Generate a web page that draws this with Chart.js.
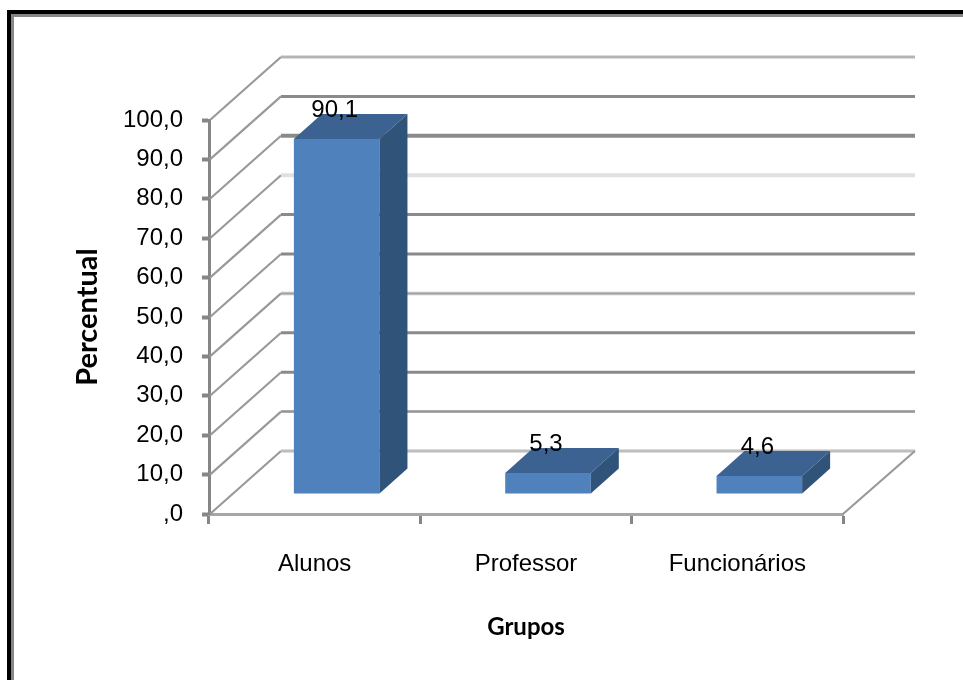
<!DOCTYPE html>
<html><head><meta charset="utf-8">
<style>html,body{margin:0;padding:0;background:#fff}canvas{display:block}</style>
<script src="https://cdn.jsdelivr.net/npm/chart.js@4"></script>
</head><body>
<canvas id="c" width="963" height="680"></canvas>
<script>
const categories = ['Alunos', 'Professor', 'Funcionários'];
const percentual = [90.1, 5.3, 4.6];
const valueLabels = ['90,1', '5,3', '4,6'];
const yMin = 0, yMax = 100, yStep = 10;
const xTitle = 'Grupos';
const yTitle = 'Percentual';

const wall = {dx: 72, dy: 63};
const barShift = {dx: 22, dy: 20};
const depth = {dx: 28, dy: 25};
const gridStyle = {
  100:['#dcdcdc',4,'#8c8c8c',1], 90:['#8a8a8a',3], 80:['#8a8a8a',4], 70:['#e0e0e0',4],
  60:['#8a8a8a',3], 50:['#8a8a8a',3], 40:['#dedede',4,'#a0a0a0',2], 30:['#8a8a8a',3], 20:['#8a8a8a',3],
  10:['#c0c0c0',3,'#959595',2], 0:['#dcdcdc',4,'#a0a0a0',1]
};
const fmt = v => v === 0 ? ',0' : v.toFixed(1).replace('.', ',');
const family = '"Liberation Sans", sans-serif';
const labelFont = '24px ' + family;

const scene3d = {
  id: 'scene3d',
  beforeDraw(chart) {
    const {ctx, width, height} = chart;
    ctx.save();
    ctx.fillStyle = '#000';
    ctx.fillRect(7, 10, width - 7, 4);
    ctx.fillRect(7, 10, 4, height - 10);
    ctx.fillStyle = '#868686';
    ctx.fillRect(11, 14, width - 11, 3);
    ctx.fillRect(11, 14, 3, height - 14);
    ctx.restore();
  },
  beforeDatasetsDraw(chart) {
    const {ctx, chartArea: a, scales: {y}} = chart;
    ctx.save();
    y.ticks.forEach(t => {
      const py = y.getPixelForValue(t.value);
      const s = gridStyle[t.value] || ['#8a8a8a', 3];
      ctx.strokeStyle = '#999'; ctx.lineWidth = 2.2;
      ctx.beginPath(); ctx.moveTo(a.left + 1, py); ctx.lineTo(a.left + wall.dx, py - wall.dy); ctx.stroke();
      ctx.strokeStyle = s[0]; ctx.lineWidth = s[1];
      ctx.beginPath(); ctx.moveTo(a.left + wall.dx, py - wall.dy); ctx.lineTo(a.right + wall.dx, py - wall.dy); ctx.stroke();
      if (s[2]) {
        ctx.strokeStyle = s[2]; ctx.lineWidth = s[3];
        ctx.beginPath(); ctx.moveTo(a.left + wall.dx, py - wall.dy); ctx.lineTo(a.right + wall.dx, py - wall.dy); ctx.stroke();
      }
    });
    const p0 = y.getPixelForValue(0);
    ctx.strokeStyle = '#999'; ctx.lineWidth = 2.2;
    ctx.beginPath(); ctx.moveTo(a.right, p0); ctx.lineTo(a.right + wall.dx, p0 - wall.dy); ctx.stroke();
    ctx.restore();
  },
  beforeDatasetDraw(chart) {
    chart.ctx.save();
    chart.ctx.translate(barShift.dx, -barShift.dy);
  },
  afterDatasetDraw(chart, args) {
    const ctx = chart.ctx;
    ctx.restore();
    ctx.save();
    args.meta.data.forEach((bar, i) => {
      const p = bar.getProps(['x', 'y', 'base', 'width'], true);
      const l = p.x - p.width / 2 + barShift.dx, r = p.x + p.width / 2 + barShift.dx;
      const t = p.y - barShift.dy, b = p.base - barShift.dy;
      ctx.fillStyle = '#3b6291';
      ctx.beginPath(); ctx.moveTo(l, t); ctx.lineTo(l + depth.dx, t - depth.dy);
      ctx.lineTo(r + depth.dx, t - depth.dy); ctx.lineTo(r, t); ctx.closePath(); ctx.fill();
      ctx.fillStyle = '#305379';
      ctx.beginPath(); ctx.moveTo(r, t); ctx.lineTo(r + depth.dx, t - depth.dy);
      ctx.lineTo(r + depth.dx, b - depth.dy); ctx.lineTo(r, b); ctx.closePath(); ctx.fill();
      ctx.fillStyle = '#000';
      ctx.font = labelFont;
      ctx.textAlign = 'center'; ctx.textBaseline = 'middle';
      ctx.fillText(valueLabels[i], l + p.width / 2 - 2, t - 29);
    });
    ctx.restore();
  }
};

new Chart(document.getElementById('c'), {
  type: 'bar',
  data: {labels: categories, datasets: [{data: percentual, backgroundColor: '#4f81bd', barPercentage: 0.405, categoryPercentage: 1, clip: false}]},
  options: {
    responsive: false, animation: false,
    layout: {padding: {top: 120, right: 120, left: 0, bottom: 0}},
    plugins: {legend: {display: false}, tooltip: {enabled: false}},
    scales: {
      x: {
        afterFit(s) { s.height = 166; },
        grid: {drawOnChartArea: false, tickLength: 10, tickColor: '#868686', tickWidth: 3},
        border: {color: '#a6a6a6', width: 3},
        ticks: {color: '#000', font: {family: family, size: 24}, padding: 26, maxRotation: 0},
        title: {display: true, text: xTitle, color: '#000', font: {family: 'Lato, sans-serif', size: 24, weight: 'bold'}, padding: {top: 0, bottom: 38}}
      },
      y: {
        min: yMin, max: yMax,
        afterFit(s) { s.width = 209; },
        ticks: {stepSize: yStep, color: '#000', font: {family: family, size: 24}, padding: 19, callback: fmt},
        grid: {drawOnChartArea: false, tickLength: 7, tickColor: '#868686', tickWidth: 4},
        border: {color: '#868686', width: 3},
        title: {display: true, text: yTitle, color: '#000', font: {family: 'Lato, sans-serif', size: 29, weight: 'bold'}, padding: {top: 70, bottom: 0}}
      }
    }
  },
  plugins: [scene3d]
});
</script>
</body></html>
